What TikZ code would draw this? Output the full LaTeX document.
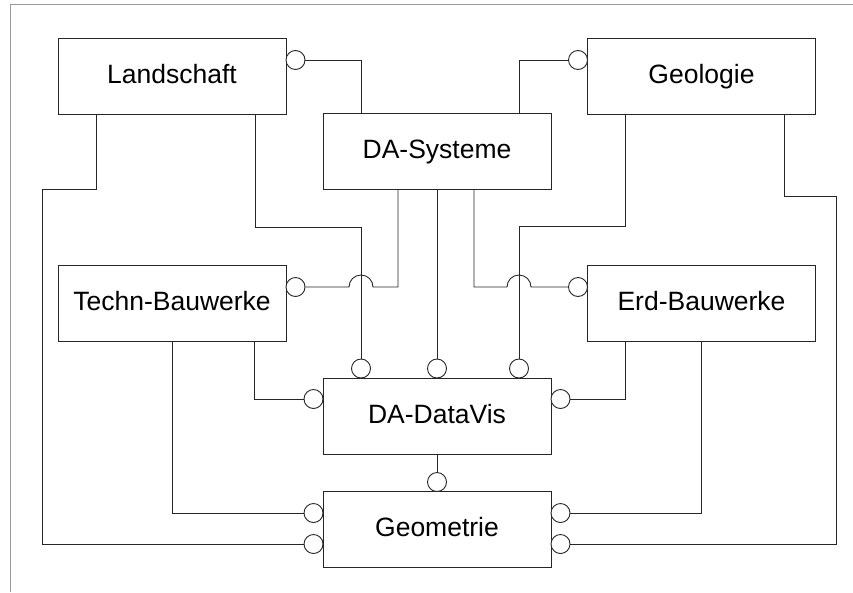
\documentclass[tikz,border=0pt]{standalone}
\usepackage{fontspec}
\setmainfont{Liberation Sans}
\begin{document}
\begin{tikzpicture}[x=1pt,y=-1pt,line width=0.9pt,draw=black!85,
  box/.style={draw,rectangle,minimum width=228pt,minimum height=76pt,inner sep=0pt,text height=19pt,text depth=5pt,font=\fontsize{26.5}{30}\selectfont},
  sock/.style={draw,circle,minimum size=19pt,inner sep=0pt,fill=white}]
\useasboundingbox (0,0) rectangle (853,592);
\draw[gray!80] (10,592) |- (853,4);
% modules
\node[box] (land) at (172,76) {Landschaft};
\node[box] (geo) at (701.5,76) {Geologie};
\node[box] (sys) at (437,151) {DA-Systeme};
\node[box] (tech) at (172,303.5) {Techn-Bauwerke};
\node[box] (erd) at (701.5,303.5) {Erd-Bauwerke};
\node[box] (vis) at (437,416) {DA-DataVis};
\node[box] (geom) at (437,529.5) {Geometrie};
% sockets
\node[sock] (kL) at (295.5,60) {}; \node[sock] (kG) at (578,60) {};
\node[sock] (kT) at (295.5,287) {}; \node[sock] (kE) at (578,287) {};
\foreach \x/\n in {361/1,437/2,519/3} {\node[sock] (v\n) at (\x,368.5) {};}
\node[sock] (vl) at (313.5,399) {}; \node[sock] (vr) at (560.5,399) {};
\node[sock] (gm) at (437,482) {};
\foreach \y/\n in {513/1,544/2} {\node[sock] (gl\n) at (313.5,\y) {}; \node[sock] (gr\n) at (560.5,\y) {};}
% bends
\coordinate (bL) at (42,189); \coordinate (bR) at (836,196);
\coordinate (hL) at (361,227); \coordinate (hR) at (519,226);
% links
\draw (kL.east) -| (sys.north -| v1);
\draw (kG.west) -| (sys.north -| v3);
\draw ([xshift=-76pt]land.south) |- (bL) |- (gl2.west);
\draw ([xshift=83pt]land.south) |- (hL) -- (v1.north);
\draw ([xshift=-39pt]sys.south) |- (373,287) arc[start angle=0,end angle=180,radius=12pt] -- (kT.east);
\draw (sys.south) -- (v2.north);
\draw ([xshift=37pt]sys.south) |- (507,287) arc[start angle=180,end angle=0,radius=12pt] -- (kE.west);
\draw ([xshift=-76.5pt]geo.south) |- (hR) -- (v3.north);
\draw ([xshift=82.5pt]geo.south) |- (bR) |- (gr2.east);
\draw (tech.south) |- (gl1.west);
\draw ([xshift=82pt]tech.south) |- (vl.west);
\draw ([xshift=-76.5pt]erd.south) |- (vr.east);
\draw (erd.south) |- (gr1.east);
\draw (vis.south) -- (gm.north);
\end{tikzpicture}
\end{document}
